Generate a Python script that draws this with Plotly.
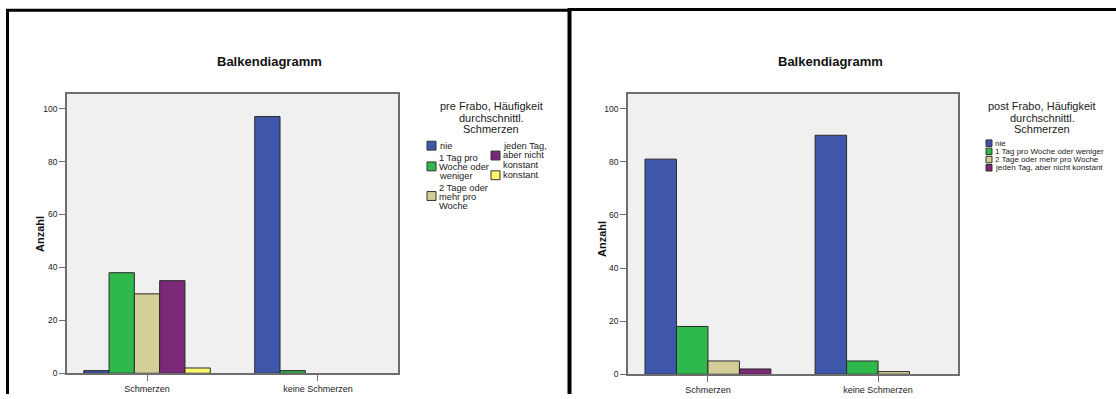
import plotly.graph_objects as go

# ---- data -----------------------------------------------------------------
categories = ["Schmerzen", "keine Schmerzen"]

pre_series = [
    "nie",
    "1 Tag pro Woche oder weniger",
    "2 Tage oder mehr pro Woche",
    "jeden Tag, aber nicht konstant",
    "konstant",
]
pre_nie = [1, 97]
pre_1tag = [38, 1]
pre_2tage = [30, 0]
pre_jeden = [35, 0]
pre_konstant = [2, 0]

post_series = [
    "nie",
    "1 Tag pro Woche oder weniger",
    "2 Tage oder mehr pro Woche",
    "jeden Tag, aber nicht konstant",
]
post_nie = [81, 90]
post_1tag = [18, 5]
post_2tage = [5, 1]
post_jeden = [2, 0]

y_ticks = [0, 20, 40, 60, 80, 100]

colors = ["#3E57AB", "#2FB84B", "#D4CF98", "#7B2878", "#FAF76E"]

# ---- geometry helpers (figure is 1116 x 399 px, zero margins) ---------------
W, H = 1116, 399


def xp(px):
    return px / W


def yp(py):
    return 1 - py / H


FONT = "Liberation Sans, Arial, sans-serif"
TXT = "#222222"

fig = go.Figure()


def add_bars(names, values, xa, ya):
    for name, vals, col in zip(names, values, colors):
        # empty counts get no outline so no flat line is drawn on the axis
        fig.add_trace(go.Bar(
            x=categories, y=vals, name=name, marker_color=col,
            marker_line=dict(color="#2a2a2a",
                             width=[1 if v else 0 for v in vals]),
            xaxis=xa, yaxis=ya, showlegend=False,
        ))


add_bars(pre_series, [pre_nie, pre_1tag, pre_2tage, pre_jeden, pre_konstant], "x", "y")
add_bars(post_series, [post_nie, post_1tag, post_2tage, post_jeden], "x2", "y2")

axis_common = dict(
    showgrid=False, zeroline=False, showline=True, linecolor="#6e6e6e",
    linewidth=1.5, mirror=True, ticks="outside", ticklen=6, tickwidth=1,
    tickcolor="#6e6e6e", tickfont=dict(family=FONT, size=9, color=TXT),
)
y_font = dict(family=FONT, size=8.5, color=TXT)

fig.update_layout(
    width=W, height=H,
    margin=dict(l=0, r=0, t=0, b=0),
    paper_bgcolor="white",
    plot_bgcolor="#F0F0F0",
    barmode="group",
    bargap=0.26,
    bargroupgap=0,
    showlegend=False,
    xaxis=dict(domain=[xp(67), xp(398)], range=[-0.468, 1.468],
               anchor="y", **axis_common),
    yaxis=dict(domain=[yp(378), yp(95)], range=[0, 105.6],
               tickvals=y_ticks, anchor="x", **{**axis_common, "tickfont": y_font}),
    xaxis2=dict(domain=[xp(628), xp(958)], range=[-0.47, 1.47],
                anchor="y2", **axis_common),
    yaxis2=dict(domain=[yp(379), yp(95)], range=[0, 105.6],
                tickvals=y_ticks, anchor="x2", **{**axis_common, "tickfont": y_font}),
)

annotations = []
shapes = []


def text(x, y, s, size, bold=False, xanchor="center", angle=0):
    annotations.append(dict(
        x=xp(x), y=yp(y), xref="paper", yref="paper", text=s,
        showarrow=False, xanchor=xanchor, yanchor="middle", textangle=angle,
        font=dict(family=FONT, size=size, color="#111111" if bold else TXT,
                  weight="bold" if bold else "normal"),
    ))


def swatch(x0, y0, x1, y1, col):
    shapes.append(dict(
        type="rect", xref="paper", yref="paper",
        x0=xp(x0), x1=xp(x1), y0=yp(y1), y1=yp(y0),
        fillcolor=col, line=dict(color="#333333", width=1),
    ))


# titles and axis labels
text(269, 62, "Balkendiagramm", 13, bold=True)
text(830, 62, "Balkendiagramm", 13, bold=True)
text(40, 237, "Anzahl", 11, bold=True, angle=-90)
text(602, 242, "Anzahl", 11, bold=True, angle=-90)

# legend of the pre chart (two columns)
for i, line in enumerate(["pre Frabo, Häufigkeit", "durchschnittl.", "Schmerzen"]):
    text(491, 107 + i * 12, line, 11)

swatch(427, 143, 436, 152, colors[0])
text(438, 148, "nie", 9.3, xanchor="left")

swatch(427, 164, 436, 173, colors[1])
for i, line in enumerate(["1 Tag pro", "Woche oder", "weniger"]):
    text(437, 160 + i * 9.3, line, 9.3, xanchor="left")

swatch(427, 194, 436, 203, colors[2])
for i, line in enumerate(["2 Tage oder", "mehr pro", "Woche"]):
    text(437, 190 + i * 9.3, line, 9.3, xanchor="left")

swatch(491, 153, 500, 162, colors[3])
for i, line in enumerate(["jeden Tag,", "aber nicht", "konstant"]):
    text(501, 148 + i * 9.3, line, 9.3, xanchor="left")

swatch(491, 173, 500, 182, colors[4])
text(501, 177.5, "konstant", 9.3, xanchor="left")

# legend of the post chart (single column)
for i, line in enumerate(["post Frabo, Häufigkeit", "durchschnittl.", "Schmerzen"]):
    text(1042, 107 + i * 12, line, 11)

for i, name in enumerate(post_series):
    yc = 145 + i * 8.3
    swatch(986, yc - 3.3, 992, yc + 3.3, colors[i])
    text(993, yc, name, 8, xanchor="left")

# black frames around both panels
frame = dict(color="black", width=3)
shapes.append(dict(type="line", xref="paper", yref="paper",
                   x0=xp(6), x1=xp(570), y0=yp(10.5), y1=yp(10.5), line=frame))
shapes.append(dict(type="line", xref="paper", yref="paper",
                   x0=xp(7.5), x1=xp(7.5), y0=yp(9), y1=yp(399), line=frame))
shapes.append(dict(type="line", xref="paper", yref="paper",
                   x0=xp(569.5), x1=xp(569.5), y0=yp(8), y1=yp(399),
                   line=dict(color="black", width=4)))
shapes.append(dict(type="line", xref="paper", yref="paper",
                   x0=xp(568), x1=xp(1116), y0=yp(9.5), y1=yp(9.5), line=frame))

fig.update_layout(annotations=annotations, shapes=shapes)

fig.write_html("out.html")
